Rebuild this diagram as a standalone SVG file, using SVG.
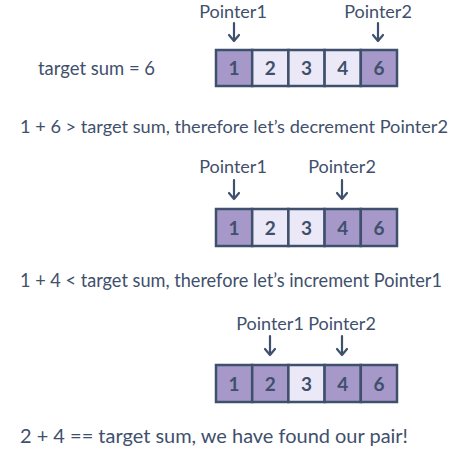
<svg xmlns="http://www.w3.org/2000/svg" width="453" height="450" viewBox="0 0 453 450">
<style>
.t{font-family:Lato,"Open Sans","Noto Sans",sans-serif;font-size:18.5px;fill:#3f506d}
.p{font-family:Lato,"Open Sans","Noto Sans",sans-serif;font-size:18px;fill:#3f506d;text-anchor:middle}
.n{font-family:Lato,"Open Sans",sans-serif;font-size:19px;font-weight:bold;fill:#3f506d;text-anchor:middle}
.d{fill:#a699ca;stroke:#3f506d;stroke-width:2.5}
.l{fill:#ebe9f7;stroke:#3f506d;stroke-width:2.5}
.a{fill:none;stroke:#3f506d;stroke-width:2.2;stroke-linecap:round;stroke-linejoin:round}
</style>
<rect width="453" height="450" fill="#ffffff"/>
<text class="t" x="38" y="75" textLength="117" lengthAdjust="spacingAndGlyphs">target sum = 6</text>
<g id="array1">
<rect class="d" x="216" y="50" width="36.2" height="36"/>
<rect class="l" x="252.2" y="50" width="36.2" height="36"/>
<rect class="l" x="288.4" y="50" width="36.2" height="36"/>
<rect class="l" x="324.6" y="50" width="36.2" height="36"/>
<rect class="d" x="360.8" y="50" width="36.2" height="36"/>
<text class="n" x="234.1" y="75">1</text>
<text class="n" x="270.3" y="75">2</text>
<text class="n" x="306.5" y="75">3</text>
<text class="n" x="342.7" y="75">4</text>
<text class="n" x="378.9" y="75">6</text>
</g>
<g id="pointers1">
<text class="p" x="233" y="18">Pointer1</text>
<text class="p" x="378" y="18">Pointer2</text>
</g>
<g id="connectors1">
<path class="a" d="M234 23V41M229 35L234 41L239 35"/>
<path class="a" d="M378 23V41M373 35L378 41L383 35"/>
</g>
<text class="t" x="20" y="133" style="font-size:18px" textLength="428" lengthAdjust="spacingAndGlyphs">1 + 6 &gt; target sum, therefore let’s decrement Pointer2</text>
<g id="array2">
<rect class="d" x="216" y="209" width="36.2" height="37"/>
<rect class="l" x="252.2" y="209" width="36.2" height="37"/>
<rect class="l" x="288.4" y="209" width="36.2" height="37"/>
<rect class="d" x="324.6" y="209" width="36.2" height="37"/>
<rect class="d" x="360.8" y="209" width="36.2" height="37"/>
<text class="n" x="234.1" y="234.5">1</text>
<text class="n" x="270.3" y="234.5">2</text>
<text class="n" x="306.5" y="234.5">3</text>
<text class="n" x="342.7" y="234.5">4</text>
<text class="n" x="378.9" y="234.5">6</text>
</g>
<g id="pointers2">
<text class="p" x="233" y="173">Pointer1</text>
<text class="p" x="342" y="173">Pointer2</text>
</g>
<g id="connectors2">
<path class="a" d="M234 180V199M229 193L234 199L239 193"/>
<path class="a" d="M342 180V199M337 193L342 199L347 193"/>
</g>
<text class="t" x="20" y="287" textLength="422" lengthAdjust="spacingAndGlyphs">1 + 4 &lt; target sum, therefore let’s increment Pointer1</text>
<g id="array3">
<rect class="d" x="216" y="365" width="36.2" height="37"/>
<rect class="d" x="252.2" y="365" width="36.2" height="37"/>
<rect class="l" x="288.4" y="365" width="36.2" height="37"/>
<rect class="d" x="324.6" y="365" width="36.2" height="37"/>
<rect class="d" x="360.8" y="365" width="36.2" height="37"/>
<text class="n" x="234.1" y="390.5">1</text>
<text class="n" x="270.3" y="390.5">2</text>
<text class="n" x="306.5" y="390.5">3</text>
<text class="n" x="342.7" y="390.5">4</text>
<text class="n" x="378.9" y="390.5">6</text>
</g>
<g id="pointers3">
<text class="p" x="270" y="330">Pointer1</text>
<text class="p" x="342" y="330">Pointer2</text>
</g>
<g id="connectors3">
<path class="a" d="M270 336V355M265 349L270 355L275 349"/>
<path class="a" d="M342 336V355M337 349L342 355L347 349"/>
</g>
<text class="t" x="20" y="443" textLength="388" lengthAdjust="spacingAndGlyphs">2 + 4 == target sum, we have found our pair!</text>
</svg>
